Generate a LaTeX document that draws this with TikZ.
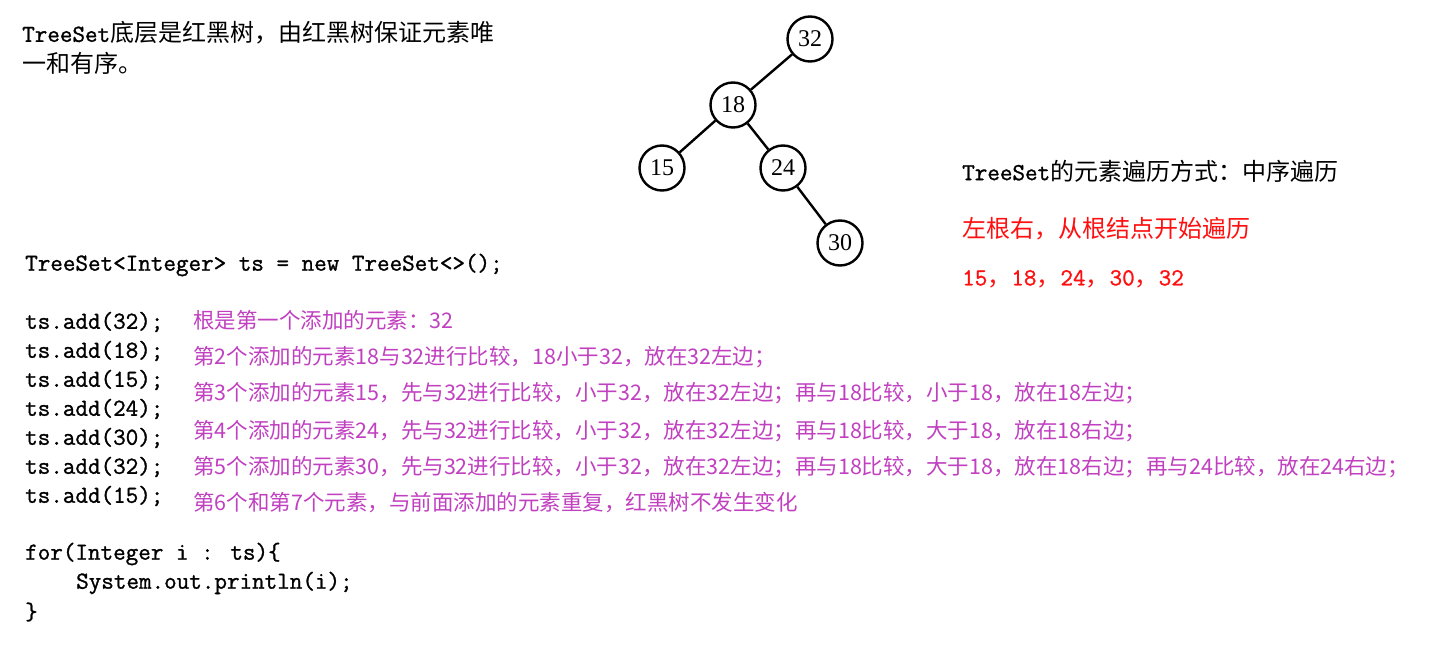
\documentclass[tikz,border=0pt]{standalone}
\usepackage{fontspec}
\usepackage{xcolor}
\newfontfamily\cjk{Noto Sans CJK SC}
\newfontfamily\numfont{Liberation Serif}
\newfontfamily\codefam[FakeBold=1.2]{Latin Modern Mono}
\newcommand\codefont{\codefam\fontsize{24.4}{24.4}\selectfont}
\newcommand\fw[1]{{\cjk\fontsize{24}{24}\selectfont #1}}

\begin{document}
\begin{tikzpicture}[
    x=1pt, y=-1pt,
    treenode/.style={circle, draw, line width=2.4pt, minimum size=45pt,
        inner sep=0pt, font=\numfont\fontsize{24}{24}\selectfont},
    branch/.style={line width=2.4pt},
    blacktxt/.style={anchor=west, inner sep=0pt, font=\cjk\fontsize{24}{24}\selectfont},
    codetxt/.style={anchor=west, inner sep=0pt, font=\codefont},
    notetxt/.style={anchor=west, inner sep=0pt, text=vpurple,
        font=\cjk\fontsize{21.5}{21.5}\selectfont}
]

\definecolor{vpurple}{HTML}{C040C0}
\definecolor{vred}{HTML}{FF1010}

\useasboundingbox (0,0) rectangle (1440,660);

% ==========================================
% 1. HEADING
% ==========================================

\node[blacktxt] (title1) at (22,33) {{\codefont TreeSet}底层是红黑树，由红黑树保证元素唯};
\node[blacktxt] (title2) at (22,63) {一和有序。};

% ==========================================
% 2. TREE
% ==========================================

\node[treenode] (n32) at (810,39) {32};
\node[treenode] (n18) at (733,105) {18};
\node[treenode] (n15) at (662,168) {15};
\node[treenode] (n24) at (783,168) {24};
\node[treenode] (n30) at (840,243) {30};

\draw[branch] (n32) -- (n18);
\draw[branch] (n18) -- (n15);
\draw[branch] (n18) -- (n24);
\draw[branch] (n24) -- (n30);

% ==========================================
% 3. TRAVERSAL NOTES
% ==========================================

\node[blacktxt] (order) at (962,171) {{\codefont TreeSet}的元素遍历方式：中序遍历};
\node[blacktxt, text=vred] (rule) at (962,229) {左根右，从根结点开始遍历};
\node[blacktxt, text=vred] (seq) at (962,279)
    {{\codefont 15\fw{，}18\fw{，}24\fw{，}30\fw{，}32}};

% ==========================================
% 4. CODE
% ==========================================

\node[codetxt] (decl) at (25,265) {TreeSet<Integer> ts = new TreeSet<>();};

\node[codetxt] (add1) at (25,322) {ts.add(32);};
\node[codetxt] (add2) at (25,351) {ts.add(18);};
\node[codetxt] (add3) at (25,380) {ts.add(15);};
\node[codetxt] (add4) at (25,409) {ts.add(24);};
\node[codetxt] (add5) at (25,438) {ts.add(30);};
\node[codetxt] (add6) at (25,467) {ts.add(32);};
\node[codetxt] (add7) at (25,496) {ts.add(15);};

\node[codetxt] (loop) at (25,554) {for(Integer i : ts)\{};
\node[codetxt] (body) at (76,583) {System.out.println(i);};
\node[codetxt] (close) at (25,612) {\}};

% ==========================================
% 5. INSERTION NOTES
% ==========================================

\node[notetxt] (note1) at (193,320) {根是第一个添加的元素：32};
\node[notetxt] (note2) at (193,357) {第2个添加的元素18与32进行比较，18小于32，放在32左边；};
\node[notetxt] (note3) at (193,393) {第3个添加的元素15，先与32进行比较，小于32，放在32左边；再与18比较，小于18，放在18左边；};
\node[notetxt] (note4) at (193,431) {第4个添加的元素24，先与32进行比较，小于32，放在32左边；再与18比较，大于18，放在18右边；};
\node[notetxt] (note5) at (193,467) {第5个添加的元素30，先与32进行比较，小于32，放在32左边；再与18比较，大于18，放在18右边；再与24比较，放在24右边；};
\node[notetxt] (note6) at (193,503) {第6个和第7个元素，与前面添加的元素重复，红黑树不发生变化};

\end{tikzpicture}
\end{document}
